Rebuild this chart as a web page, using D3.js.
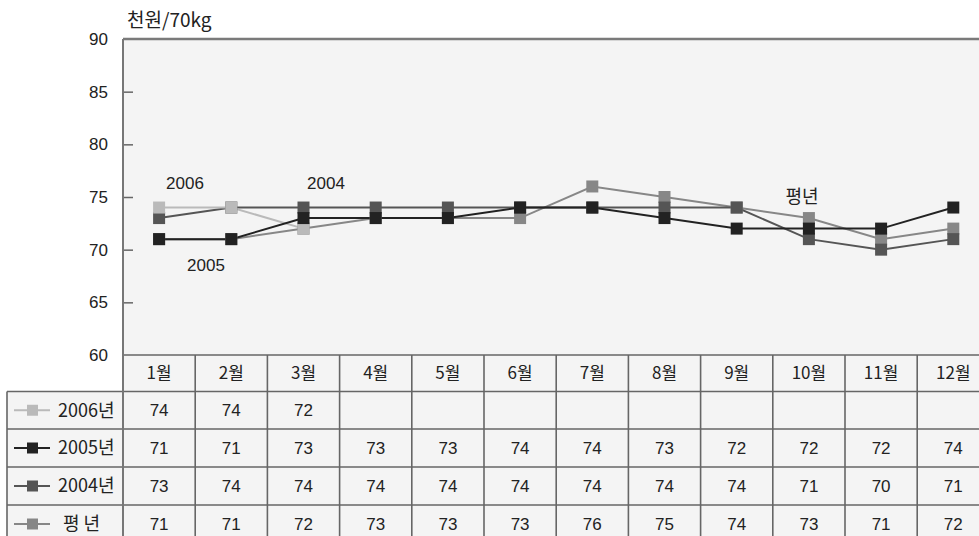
<!DOCTYPE html>
<html>
<head>
<meta charset="utf-8">
<script src="https://cdn.jsdelivr.net/npm/d3@7"></script>
<style>
  body { margin: 0; background: #fff; }
  svg { display: block; font-family: "Liberation Sans", Arial, "Noto Sans CJK KR", sans-serif; }
  .kr { font-family: "Noto Sans CJK KR", sans-serif; }
</style>
</head>
<body>
<div class="chart"></div>
<script>
const months = ['1월', '2월', '3월', '4월', '5월', '6월', '7월', '8월', '9월', '10월', '11월', '12월'];
const s2006 = [74, 74, 72, null, null, null, null, null, null, null, null, null];
const s2005 = [71, 71, 73, 73, 73, 74, 74, 73, 72, 72, 72, 74];
const s2004 = [73, 74, 74, 74, 74, 74, 74, 74, 74, 71, 70, 71];
const avgYear = [71, 71, 72, 73, 73, 73, 76, 75, 74, 73, 71, 72];
const yTicks = [60, 65, 70, 75, 80, 85, 90];

const svgWidth = 979, svgHeight = 536;
const plotLeft = 123, plotTop = 39, plotBottom = 355;
const colW = 72.2;
const rowTop = [355, 391.5, 429, 467, 505, 543];

// series in draw order (bottom -> top), with table row index
const series = [
  { name: '평년', values: avgYear, color: '#878787', row: 3, label: '평년', lx: 802, ly: 197 },
  { name: '2004년', values: s2004, color: '#555555', row: 2, label: '2004', lx: 326, ly: 183 },
  { name: '2006년', values: s2006, color: '#bababa', row: 0, label: '2006', lx: 185, ly: 183 },
  { name: '2005년', values: s2005, color: '#222222', row: 1, label: '2005', lx: 206, ly: 265 }
];

const svg = d3.select('.chart')
  .append('svg')
  .attr('width', svgWidth)
  .attr('height', svgHeight);

const x = d3.scaleBand()
  .domain(months)
  .range([plotLeft, plotLeft + colW * months.length]);

const y = d3.scaleLinear()
  .domain([60, 90])
  .range([plotBottom, plotTop]);

// plot background
svg.append('rect')
  .attr('x', plotLeft).attr('y', plotTop)
  .attr('width', svgWidth - plotLeft).attr('height', plotBottom - plotTop)
  .attr('fill', '#f4f4f4');

// table background
svg.append('rect')
  .attr('x', plotLeft).attr('y', rowTop[0])
  .attr('width', svgWidth - plotLeft).attr('height', svgHeight - rowTop[0])
  .attr('fill', '#f4f4f4');
svg.append('rect')
  .attr('x', 7).attr('y', rowTop[1])
  .attr('width', plotLeft - 7).attr('height', svgHeight - rowTop[1])
  .attr('fill', '#f4f4f4');

// y axis with inward ticks
const yAxis = d3.axisRight(y)
  .tickValues(yTicks.filter(d => d > 60 && d < 90))
  .tickSize(10)
  .tickFormat('');
svg.append('g')
  .attr('transform', `translate(${plotLeft},0)`)
  .call(yAxis)
  .call(g => g.select('.domain').remove())
  .call(g => g.selectAll('line').attr('stroke', '#666').attr('stroke-width', 1.5));

svg.append('g')
  .selectAll('text')
  .data(yTicks)
  .enter().append('text')
  .attr('x', 108)
  .attr('y', d => y(d))
  .attr('dy', '0.35em')
  .attr('text-anchor', 'end')
  .attr('font-size', 17)
  .attr('fill', '#222')
  .text(d => d);

// unit
svg.append('text')
  .attr('class', 'kr')
  .attr('x', 127).attr('y', 27)
  .attr('font-size', 19)
  .attr('fill', '#222')
  .text('천원/70kg');

// table grid
const grid = svg.append('g')
  .attr('stroke', '#666')
  .attr('stroke-width', 1.6);

// horizontal lines
rowTop.forEach((ry, i) => {
  grid.append('line')
    .attr('x1', i === 0 ? plotLeft : 7).attr('x2', svgWidth)
    .attr('y1', ry).attr('y2', ry);
});
// vertical lines
months.forEach((m, i) => {
  if (i === 0) return;
  grid.append('line')
    .attr('x1', x(m)).attr('x2', x(m))
    .attr('y1', rowTop[0]).attr('y2', svgHeight);
});
grid.append('line')
  .attr('x1', 7).attr('x2', 7)
  .attr('y1', rowTop[1]).attr('y2', svgHeight);

// plot frame: left axis line and top border
svg.append('line')
  .attr('x1', plotLeft).attr('x2', plotLeft)
  .attr('y1', plotTop).attr('y2', svgHeight)
  .attr('stroke', '#777').attr('stroke-width', 2);
svg.append('line')
  .attr('x1', plotLeft).attr('x2', svgWidth)
  .attr('y1', plotTop).attr('y2', plotTop)
  .attr('stroke', '#7a7a7a').attr('stroke-width', 2.5);

// month headers
svg.append('g')
  .selectAll('text')
  .data(months)
  .enter().append('text')
  .attr('class', 'kr')
  .attr('x', d => x(d) + x.bandwidth() / 2)
  .attr('y', (rowTop[0] + rowTop[1]) / 2)
  .attr('dy', '0.35em')
  .attr('text-anchor', 'middle')
  .attr('font-size', 17)
  .attr('fill', '#222')
  .text(d => d);

// lines and markers
const line = d3.line()
  .defined(d => d != null)
  .x((d, i) => x(months[i]) + x.bandwidth() / 2)
  .y(d => y(d));

series.forEach(s => {
  svg.append('path')
    .datum(s.values)
    .attr('fill', 'none')
    .attr('stroke', s.color)
    .attr('stroke-width', 2)
    .attr('d', line);
});
series.forEach(s => {
  svg.append('g')
    .selectAll('rect')
    .data(s.values.map((v, i) => ({ v, m: months[i] })).filter(d => d.v != null))
    .enter().append('rect')
    .attr('x', d => x(d.m) + x.bandwidth() / 2 - 6)
    .attr('y', d => y(d.v) - 6)
    .attr('width', 12).attr('height', 12)
    .attr('fill', s.color);
});

// series labels inside plot
series.forEach(s => {
  svg.append('text')
    .attr('class', s.label === '평년' ? 'kr' : null)
    .attr('x', s.lx).attr('y', s.ly)
    .attr('dy', '0.35em')
    .attr('text-anchor', 'middle')
    .attr('font-size', s.label === '평년' ? 18 : 17)
    .attr('fill', '#222')
    .text(s.label);
});

// table rows
series.forEach(s => {
  const cy = (rowTop[s.row + 1] + rowTop[s.row + 2]) / 2;
  const g = svg.append('g');
  g.append('line')
    .attr('x1', 14).attr('x2', 50)
    .attr('y1', cy).attr('y2', cy)
    .attr('stroke', s.color).attr('stroke-width', 2);
  g.append('rect')
    .attr('x', 27).attr('y', cy - 5.5)
    .attr('width', 11).attr('height', 11)
    .attr('fill', s.color);
  g.append('text')
    .attr('class', 'kr')
    .attr('x', s.name === '평년' ? 63 : 58).attr('y', cy)
    .attr('dy', '0.35em')
    .attr('font-size', 18)
    .attr('fill', '#222')
    .text(s.name === '평년' ? '평 년' : s.name);
  g.selectAll('.val')
    .data(s.values.map((v, i) => ({ v, m: months[i] })).filter(d => d.v != null))
    .enter().append('text')
    .attr('x', d => x(d.m) + x.bandwidth() / 2)
    .attr('y', cy)
    .attr('dy', '0.35em')
    .attr('text-anchor', 'middle')
    .attr('font-size', 17)
    .attr('fill', '#222')
    .text(d => d.v);
});
</script>
</body>
</html>
